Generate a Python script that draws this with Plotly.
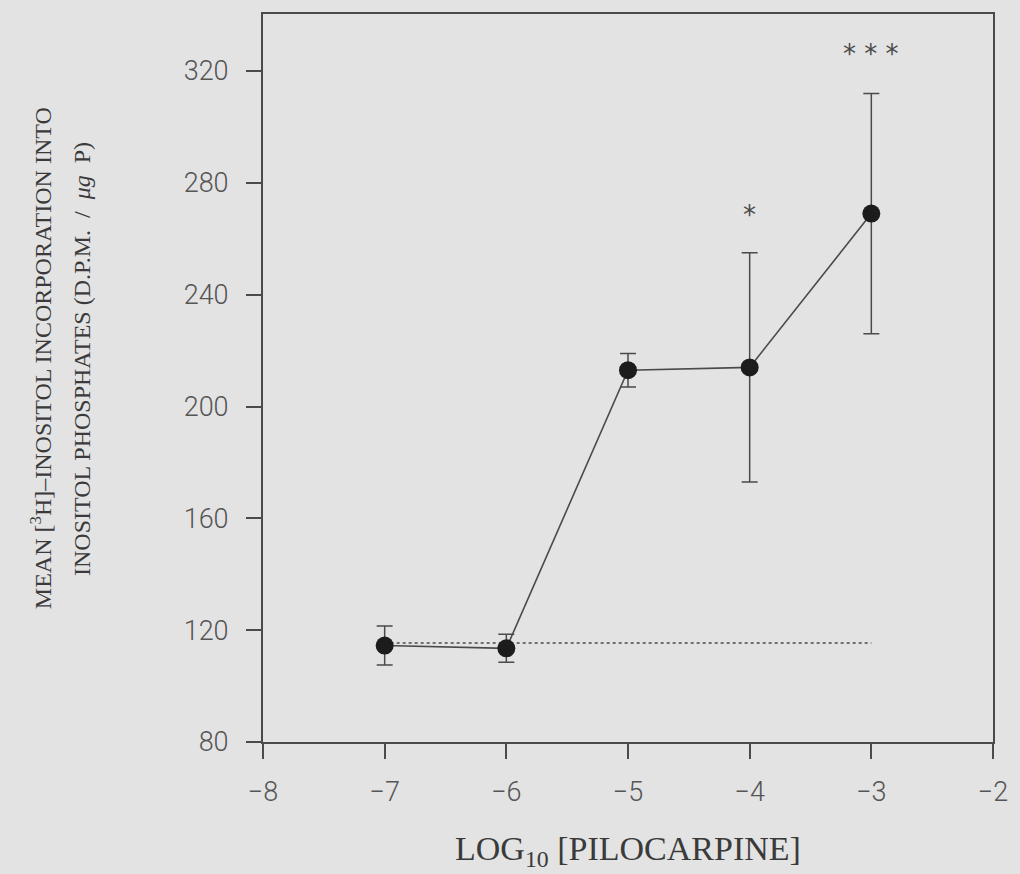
import plotly.graph_objects as go

# Data
log_conc = [-7, -6, -5, -4, -3]
mean_ip = [114.5, 113.5, 213, 214, 269]
sem_ip = [7, 5, 6, 41, 43]

baseline_x = [-7, -3]
baseline_y = [115.4, 115.4]

sig_x = [-4, -3]
sig_y = [268.5, 326]
sig_text = ["*", "* * *"]

x_tickvals = [-8, -7, -6, -5, -4, -3, -2]
x_ticktext = ["\u22128", "\u22127", "\u22126", "\u22125", "\u22124", "\u22123", "\u22122"]
y_tickvals = [80, 120, 160, 200, 240, 280, 320]

ink = "#4a4a4a"
bg = "#e3e3e3"
title_ink = "#3a3a3a"
serif = "Liberation Serif"

fig = go.Figure()

fig.add_trace(go.Scatter(
    x=baseline_x, y=baseline_y, mode="lines",
    line=dict(color=ink, width=1.5, dash="dot"),
    hoverinfo="skip", showlegend=False))

fig.add_trace(go.Scatter(
    x=log_conc, y=mean_ip, mode="lines+markers",
    line=dict(color=ink, width=1.6),
    marker=dict(size=18, color="#1c1c1c", line=dict(width=0)),
    error_y=dict(type="data", array=sem_ip, visible=True,
                 color=ink, thickness=1.5, width=8),
    showlegend=False))

for sx, sy, st in zip(sig_x, sig_y, sig_text):
    fig.add_annotation(
        x=sx, y=sy, xref="x", yref="y", text=st, showarrow=False,
        xanchor="center", yanchor="middle",
        font=dict(family="DejaVu Sans", size=26, color=ink))

axis_common = dict(
    showline=True, linecolor=ink, linewidth=2, mirror=True,
    ticks="outside", ticklen=15, tickwidth=2, tickcolor=ink,
    showgrid=False, zeroline=False,
    tickfont=dict(family="Roboto", size=27, color="#555555", weight=300),
)

fig.update_xaxes(range=[-8, -2], tickvals=x_tickvals, ticktext=x_ticktext,
                 ticklabelstandoff=10, **axis_common)
fig.update_yaxes(range=[80, 340.4], tickvals=y_tickvals,
                 ticklabelstandoff=12, **axis_common)

fig.add_annotation(
    text="LOG<sub>10</sub> [PILOCARPINE]", xref="paper", yref="paper",
    x=0.5, y=-0.15, xanchor="center", yanchor="middle", showarrow=False,
    font=dict(family=serif, size=34, color=title_ink))

fig.add_annotation(
    text="MEAN [<sup>3</sup>H]\u2013INOSITOL INCORPORATION INTO",
    xref="paper", yref="paper", x=(40 - 263) / 732, y=(742 - 358) / 729,
    xanchor="center", yanchor="middle", textangle=-90, showarrow=False,
    font=dict(family=serif, size=24, color=title_ink))

fig.add_annotation(
    text="INOSITOL PHOSPHATES (D.P.M.  /  <i>\u03bcg</i>  P)",
    xref="paper", yref="paper", x=(81 - 263) / 732, y=(742 - 358) / 729,
    xanchor="center", yanchor="middle", textangle=-90, showarrow=False,
    font=dict(family=serif, size=24, color=title_ink))

fig.update_layout(
    width=1020, height=874,
    margin=dict(l=263, r=25, t=13, b=132),
    paper_bgcolor=bg, plot_bgcolor=bg,
)

fig.write_html("out.html")
